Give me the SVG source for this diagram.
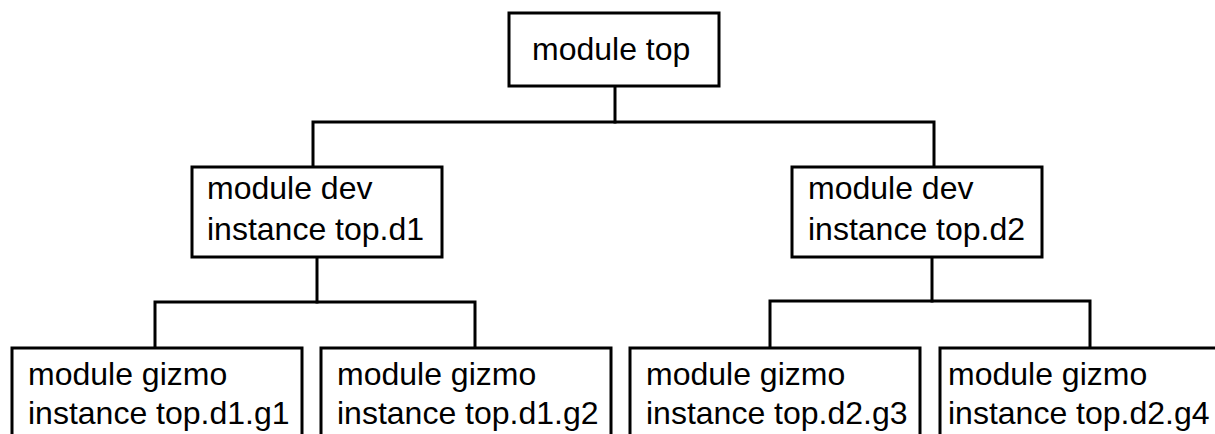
<svg xmlns="http://www.w3.org/2000/svg" width="1215" height="434" viewBox="0 0 1215 434">
<style>
.box{fill:#fff;stroke:#000;stroke-width:3}
.conn{fill:none;stroke:#000;stroke-width:3;stroke-linecap:square}
text{font-family:"Liberation Sans",Arial,sans-serif;font-size:32px;fill:#000}
</style>
<rect width="1215" height="434" fill="#fff"/>
<g id="connectors">
<polyline class="conn" points="615,87 615,122"/>
<polyline class="conn" points="313,166 313,122 934,122 934,166"/>
<polyline class="conn" points="317,258 317,302"/>
<polyline class="conn" points="155,347 155,302 475,302 475,347"/>
<polyline class="conn" points="932,258 932,301"/>
<polyline class="conn" points="770,347 770,301 1090,301 1090,347"/>
</g>
<g id="top">
<rect class="box" x="509" y="13" width="210" height="73"/>
<text x="532" y="60">module top</text>
</g>
<g id="d1">
<rect class="box" x="192" y="167" width="250" height="90"/>
<text x="207" y="199">module dev</text>
<text x="207" y="240">instance top.d1</text>
</g>
<g id="d2">
<rect class="box" x="792" y="167" width="250" height="90"/>
<text x="808" y="199">module dev</text>
<text x="808" y="240">instance top.d2</text>
</g>
<g id="g1">
<rect class="box" x="12" y="348" width="290" height="100"/>
<text x="28" y="385">module gizmo</text>
<text x="28" y="424">instance top.d1.g1</text>
</g>
<g id="g2">
<rect class="box" x="321" y="348" width="290" height="100"/>
<text x="337" y="385">module gizmo</text>
<text x="337" y="424">instance top.d1.g2</text>
</g>
<g id="g3">
<rect class="box" x="630" y="348" width="290" height="100"/>
<text x="646" y="385">module gizmo</text>
<text x="646" y="424">instance top.d2.g3</text>
</g>
<g id="g4">
<rect class="box" x="940" y="348" width="290" height="100"/>
<text x="948" y="385">module gizmo</text>
<text x="948" y="424">instance top.d2.g4</text>
</g>
</svg>
